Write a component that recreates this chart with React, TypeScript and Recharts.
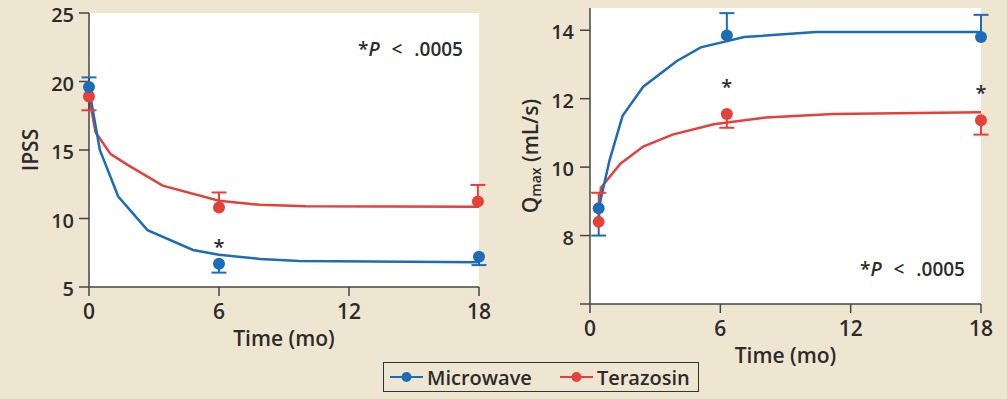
import React from 'react';
import { ComposedChart, Line, Scatter, XAxis, YAxis, CartesianGrid, ErrorBar } from 'recharts';

const BLUE = '#1c6cb8';
const RED = '#e6403a';
const BG = '#efe6d2';
const INK = '#2b2b2b';
const AXIS = '#444';
const FONT = '"Open Sans", sans-serif';

// IPSS panel: measured points, [down, up] error, and fitted curves
const ipssMwTimes = [0, 6, 18];
const ipssMw = [19.6, 6.7, 7.2];
const ipssMwErr = [[0, 0.7], [0.65, 0], [0.6, 0]];
const ipssTzTimes = [0, 6, 17.95];
const ipssTz = [18.9, 10.8, 11.25];
const ipssTzErr = [[1.0, 0], [0, 1.1], [0, 1.2]];
const ipssMwFitT = [0, 0.5, 1.35, 2.7, 4.8, 6, 7.9, 9.7, 18];
const ipssMwFit = [19.5, 15.0, 11.6, 9.15, 7.7, 7.35, 7.05, 6.9, 6.8];
const ipssTzFitT = [0, 0.3, 1.0, 1.8, 3.4, 6, 7.9, 10, 18];
const ipssTzFit = [18.9, 16.3, 14.7, 13.9, 12.4, 11.3, 11.0, 10.9, 10.85];
const ipssStarT = [6];
const ipssStarY = [8.3];

// Qmax panel
const qMwTimes = [0.4, 6.3, 18];
const qMw = [8.8, 13.85, 13.8];
const qMwErr = [[0.8, 0], [0, 0.65], [0, 0.65]];
const qTzTimes = [0.4, 6.3, 18];
const qTz = [8.4, 11.55, 11.37];
const qTzErr = [[0, 0.85], [0.4, 0], [0.42, 0]];
const qMwFitT = [0.4, 0.9, 1.5, 2.45, 4.0, 5.1, 7.1, 10.4, 18];
const qMwFit = [8.8, 10.2, 11.5, 12.35, 13.1, 13.5, 13.8, 13.95, 13.95];
const qTzFitT = [0.4, 0.5, 1.4, 2.45, 3.8, 5.7, 8.1, 11.2, 18];
const qTzFit = [8.4, 9.4, 10.1, 10.6, 10.95, 11.25, 11.45, 11.55, 11.6];
const qStarT = [6.3, 18];
const qStarY = [12.5, 12.3];

const xTicks = [0, 6, 12, 18];
const ipssTicks = [5, 10, 15, 20, 25];
const qTicks = [6, 8, 10, 12, 14];

const rows = (ts: number[], vs: number[]) => ts.map((t, i) => ({ t, v: vs[i] }));
const pointRows = (ts: number[], vs: number[], errs: number[][]) =>
  ts.map((t, i) => ({ t, v: vs[i], err: errs[i] }));
// end of each error bar, where the cap goes
const capRows = (ts: number[], vs: number[], errs: number[][]) =>
  ts.map((t, i) => ({ t, v: vs[i] - errs[i][0] + errs[i][1] }));

const tickStyle = { fill: INK, fontSize: 21, fontWeight: 600, fontFamily: FONT };

// y ticks sit a touch below the tick mark, as in the original
const YTick = (hide?: number) => (p: any) => (
  <text x={p.x} y={p.y} dy="0.45em" textAnchor="end" fill={INK} fontSize={20} fontWeight={600} fontFamily={FONT}>
    {p.payload.value === hide ? '' : p.payload.value}
  </text>
);

const Dot = (color: string) => (p: any) => <circle cx={p.cx} cy={p.cy} r={6} fill={color} />;
const Cap = (color: string) => (p: any) => (
  <line x1={p.cx - 7.5} x2={p.cx + 7.5} y1={p.cy} y2={p.cy} stroke={color} strokeWidth={2} />
);
const Star = (p: any) => (
  <text x={p.cx} y={p.cy + 12} textAnchor="middle" fill={INK} fontSize={20} fontWeight={600} fontFamily={FONT}>*</text>
);

const IpssLabel = (p: any) => {
  const cx = 30;
  const cy = p.viewBox.y + p.viewBox.height / 2;
  return (
    <text x={cx} y={cy} transform={`rotate(-90, ${cx}, ${cy})`} textAnchor="middle" dominantBaseline="central"
      fill={INK} fontSize={21} fontWeight={600} fontFamily={FONT}>IPSS</text>
  );
};

const QmaxLabel = (p: any) => {
  const cx = 30;
  const cy = p.viewBox.y + p.viewBox.height / 2;
  return (
    <text x={cx} y={cy} transform={`rotate(-90, ${cx}, ${cy})`} textAnchor="middle" dominantBaseline="central"
      fill={INK} fontSize={21} fontWeight={600} fontFamily={FONT}>
      Q<tspan dy={5} fontSize={14}>max</tspan><tspan dy={-5}> (mL/s)</tspan>
    </text>
  );
};

const Series = (
  color: string, fitT: number[], fit: number[],
  ts: number[], vs: number[], errs: number[][], key: string,
) => [
  <Line key={key + 'fit'} data={rows(fitT, fit)} dataKey="v" type="linear" stroke={color} strokeWidth={2.5}
    dot={false} isAnimationActive={false} />,
  <Scatter key={key + 'pts'} data={pointRows(ts, vs, errs)} shape={Dot(color)} isAnimationActive={false}>
    <ErrorBar dataKey="err" direction="y" width={0} stroke={color} strokeWidth={2} isAnimationActive={false} />
  </Scatter>,
  <Scatter key={key + 'cap'} data={capRows(ts, vs, errs)} shape={Cap(color)} isAnimationActive={false} />,
];

const timeLabel = { value: 'Time (mo)', position: 'bottom' as const, fill: INK, fontSize: 21, fontWeight: 600, fontFamily: FONT };

const IpssChart = () => (
  <ComposedChart width={500} height={399} margin={{ top: 13, right: 21, bottom: 72, left: 0 }}>
    <CartesianGrid fill="#fff" stroke="none" />
    <XAxis type="number" dataKey="t" domain={[0, 18]} ticks={xTicks}
      stroke={AXIS} strokeWidth={1.5} tickSize={9} tickMargin={8} height={40} tick={tickStyle}
      label={{ ...timeLabel, offset: 4 }} />
    <YAxis type="number" dataKey="v" domain={[5, 25]} ticks={ipssTicks} width={89}
      stroke={AXIS} strokeWidth={1.5} tickSize={10} tickMargin={5} tick={YTick()}
      label={{ content: (p: any) => <IpssLabel {...p} /> }} />
    {Series(RED, ipssTzFitT, ipssTzFit, ipssTzTimes, ipssTz, ipssTzErr, 'tz')}
    {Series(BLUE, ipssMwFitT, ipssMwFit, ipssMwTimes, ipssMw, ipssMwErr, 'mw')}
    <Scatter data={rows(ipssStarT, ipssStarY)} shape={Star} isAnimationActive={false} />
  </ComposedChart>
);

const QmaxChart = () => (
  <ComposedChart width={507} height={399} margin={{ top: 8, right: 26, bottom: 55, left: 0 }}>
    <CartesianGrid fill="#fff" stroke="none" />
    <XAxis type="number" dataKey="t" domain={[0, 18]} ticks={xTicks}
      stroke={AXIS} strokeWidth={1.5} tickSize={9} tickMargin={8} height={40} tick={tickStyle}
      label={{ ...timeLabel, offset: 4 }} />
    <YAxis type="number" dataKey="v" domain={[6, 14.65]} ticks={qTicks} width={90}
      stroke={AXIS} strokeWidth={1.5} tickSize={10} tickMargin={6} tick={YTick(6)}
      label={{ content: (p: any) => <QmaxLabel {...p} /> }} />
    {Series(RED, qTzFitT, qTzFit, qTzTimes, qTz, qTzErr, 'tz')}
    {Series(BLUE, qMwFitT, qMwFit, qMwTimes, qMw, qMwErr, 'mw')}
    <Scatter data={rows(qStarT, qStarY)} shape={Star} isAnimationActive={false} />
  </ComposedChart>
);

const LegendIcon = ({ color }: { color: string }) => (
  <svg width={33} height={12} style={{ display: 'block' }}>
    <line x1={0} x2={33} y1={6} y2={6} stroke={color} strokeWidth={2} />
    <circle cx={16.5} cy={6} r={5} fill={color} />
  </svg>
);

const pNote = { position: 'absolute' as const, fontSize: 19, fontWeight: 600, lineHeight: 1, color: INK, wordSpacing: 7 };

export default function App() {
  return (
    <div style={{ position: 'absolute', left: 0, top: 0, width: 1007, height: 399, background: BG, fontFamily: FONT, overflow: 'hidden' }}>
      <div style={{ position: 'absolute', left: 0, top: 0 }}><IpssChart /></div>
      <div style={{ position: 'absolute', left: 500, top: 0 }}><QmaxChart /></div>
      <div style={{ ...pNote, left: 358, top: 40 }}>*<i>P</i> &lt; .0005</div>
      <div style={{ ...pNote, left: 860, top: 260 }}>*<i>P</i> &lt; .0005</div>
      <div style={{
        position: 'absolute', left: 383, top: 362, width: 316, height: 30, boxSizing: 'border-box',
        border: '1.5px solid #333', display: 'flex', alignItems: 'center', paddingLeft: 6,
        fontSize: 20, fontWeight: 600, color: INK,
      }}>
        <LegendIcon color={BLUE} />
        <span style={{ marginLeft: 4 }}>Microwave</span>
        <span style={{ marginLeft: 28 }}><LegendIcon color={RED} /></span>
        <span style={{ marginLeft: 4 }}>Terazosin</span>
      </div>
    </div>
  );
}
